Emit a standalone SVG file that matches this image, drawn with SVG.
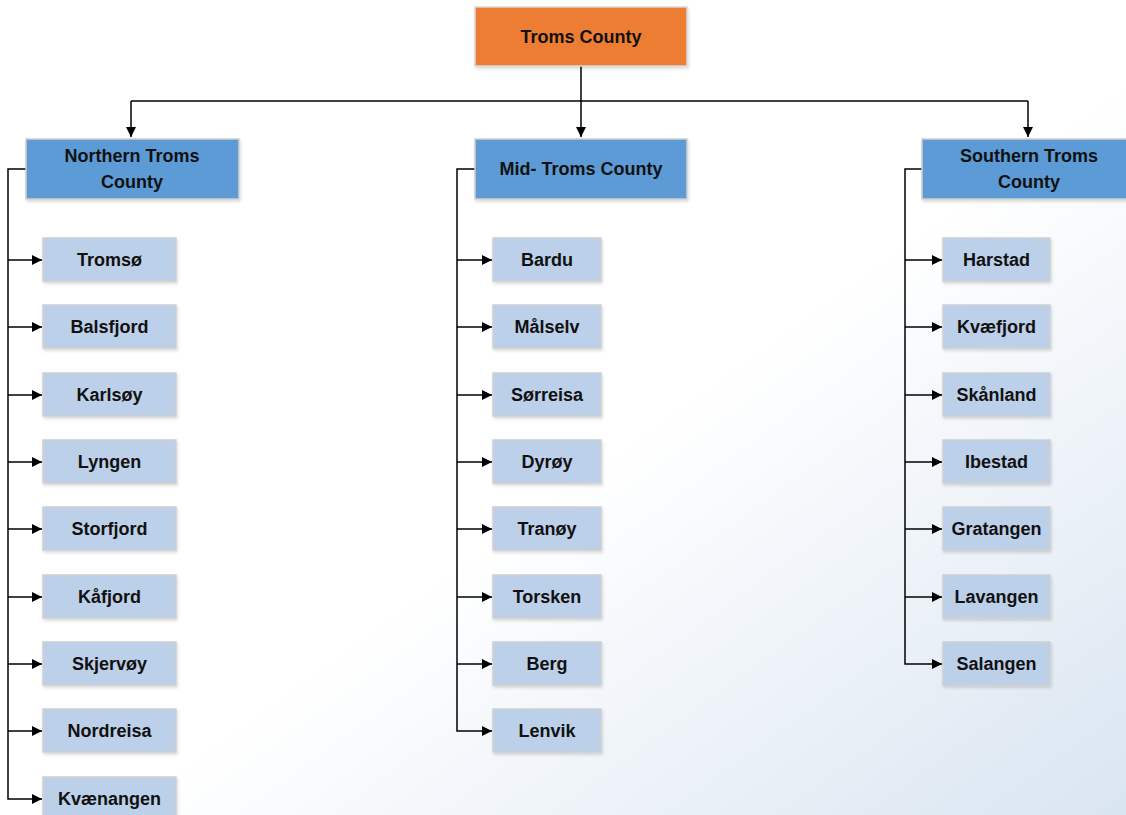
<svg xmlns="http://www.w3.org/2000/svg" width="1126" height="815" viewBox="0 0 1126 815">
<defs>
<linearGradient id="bg" x1="0" y1="0" x2="1" y2="1">
<stop offset="0" stop-color="#ffffff"/>
<stop offset="0.55" stop-color="#ffffff"/>
<stop offset="1" stop-color="#d9e5f1"/>
</linearGradient>
<marker id="arr" viewBox="0 0 10 10" refX="10" refY="5" markerWidth="10" markerHeight="10" markerUnits="userSpaceOnUse" orient="auto">
<path d="M0,0 L10,5 L0,10 Z" fill="#000"/>
</marker>
<filter id="sh" x="-10%" y="-10%" width="130%" height="140%">
<feDropShadow dx="1" dy="2" stdDeviation="1.5" flood-color="#000" flood-opacity="0.15"/>
</filter>
</defs>
<style>
.t{font-family:"Liberation Sans",Arial,sans-serif;font-weight:bold;font-size:18px;fill:#111;text-anchor:middle;dominant-baseline:central}
.top{fill:#ED7D31;stroke:#d9d9d9;stroke-width:1.5}
.l2{fill:#5B9BD5;stroke:#cfcfcf;stroke-width:1.5}
.l3{fill:#BCD0EA;stroke:#cfcfcf;stroke-width:1.5}
.c{fill:none;stroke:#000;stroke-width:1.5}
</style>
<rect width="1126" height="815" fill="url(#bg)"/>
<g id="connectors">
<path class="c" d="M581,66 V137" marker-end="url(#arr)"/>
<path class="c" d="M131,101 H1028"/>
<path class="c" d="M131,101 V137" marker-end="url(#arr)"/>
<path class="c" d="M1028,101 V137" marker-end="url(#arr)"/>
<path class="c" d="M26,169 H8 V799 H42" marker-end="url(#arr)"/>
<path class="c" d="M8,260 H42" marker-end="url(#arr)"/>
<path class="c" d="M8,327 H42" marker-end="url(#arr)"/>
<path class="c" d="M8,395 H42" marker-end="url(#arr)"/>
<path class="c" d="M8,462 H42" marker-end="url(#arr)"/>
<path class="c" d="M8,529 H42" marker-end="url(#arr)"/>
<path class="c" d="M8,597 H42" marker-end="url(#arr)"/>
<path class="c" d="M8,664 H42" marker-end="url(#arr)"/>
<path class="c" d="M8,731 H42" marker-end="url(#arr)"/>
<path class="c" d="M475,169 H457 V731 H492" marker-end="url(#arr)"/>
<path class="c" d="M457,260 H492" marker-end="url(#arr)"/>
<path class="c" d="M457,327 H492" marker-end="url(#arr)"/>
<path class="c" d="M457,395 H492" marker-end="url(#arr)"/>
<path class="c" d="M457,462 H492" marker-end="url(#arr)"/>
<path class="c" d="M457,529 H492" marker-end="url(#arr)"/>
<path class="c" d="M457,597 H492" marker-end="url(#arr)"/>
<path class="c" d="M457,664 H492" marker-end="url(#arr)"/>
<path class="c" d="M922,169 H905 V664 H942" marker-end="url(#arr)"/>
<path class="c" d="M905,260 H942" marker-end="url(#arr)"/>
<path class="c" d="M905,327 H942" marker-end="url(#arr)"/>
<path class="c" d="M905,395 H942" marker-end="url(#arr)"/>
<path class="c" d="M905,462 H942" marker-end="url(#arr)"/>
<path class="c" d="M905,529 H942" marker-end="url(#arr)"/>
<path class="c" d="M905,597 H942" marker-end="url(#arr)"/>
</g>
<g id="troms-county"><rect class="top" x="475" y="7" width="212" height="59" filter="url(#sh)"/><text class="t" x="581" y="37">Troms County</text></g>
<g id="northern"><rect class="l2" x="26" y="139" width="213" height="60" filter="url(#sh)"/><text class="t" x="132" y="156">Northern Troms</text><text class="t" x="132" y="182">County</text></g>
<g id="mid"><rect class="l2" x="475" y="139" width="212" height="60" filter="url(#sh)"/><text class="t" x="581" y="169">Mid- Troms County</text></g>
<g id="southern"><rect class="l2" x="922" y="139" width="213" height="60" filter="url(#sh)"/><text class="t" x="1029" y="156">Southern Troms</text><text class="t" x="1029" y="182">County</text></g>
<g id="n1"><rect class="l3" x="43" y="238" width="133" height="43" filter="url(#sh)"/><text class="t" x="109.5" y="260">Tromsø</text></g>
<g id="n2"><rect class="l3" x="43" y="305" width="133" height="43" filter="url(#sh)"/><text class="t" x="109.5" y="327">Balsfjord</text></g>
<g id="n3"><rect class="l3" x="43" y="373" width="133" height="43" filter="url(#sh)"/><text class="t" x="109.5" y="395">Karlsøy</text></g>
<g id="n4"><rect class="l3" x="43" y="440" width="133" height="43" filter="url(#sh)"/><text class="t" x="109.5" y="462">Lyngen</text></g>
<g id="n5"><rect class="l3" x="43" y="507" width="133" height="43" filter="url(#sh)"/><text class="t" x="109.5" y="529">Storfjord</text></g>
<g id="n6"><rect class="l3" x="43" y="575" width="133" height="43" filter="url(#sh)"/><text class="t" x="109.5" y="597">Kåfjord</text></g>
<g id="n7"><rect class="l3" x="43" y="642" width="133" height="43" filter="url(#sh)"/><text class="t" x="109.5" y="664">Skjervøy</text></g>
<g id="n8"><rect class="l3" x="43" y="709" width="133" height="43" filter="url(#sh)"/><text class="t" x="109.5" y="731">Nordreisa</text></g>
<g id="n9"><rect class="l3" x="43" y="777" width="133" height="43" filter="url(#sh)"/><text class="t" x="109.5" y="799">Kvænangen</text></g>
<g id="m1"><rect class="l3" x="493" y="238" width="108" height="43" filter="url(#sh)"/><text class="t" x="547" y="260">Bardu</text></g>
<g id="m2"><rect class="l3" x="493" y="305" width="108" height="43" filter="url(#sh)"/><text class="t" x="547" y="327">Målselv</text></g>
<g id="m3"><rect class="l3" x="493" y="373" width="108" height="43" filter="url(#sh)"/><text class="t" x="547" y="395">Sørreisa</text></g>
<g id="m4"><rect class="l3" x="493" y="440" width="108" height="43" filter="url(#sh)"/><text class="t" x="547" y="462">Dyrøy</text></g>
<g id="m5"><rect class="l3" x="493" y="507" width="108" height="43" filter="url(#sh)"/><text class="t" x="547" y="529">Tranøy</text></g>
<g id="m6"><rect class="l3" x="493" y="575" width="108" height="43" filter="url(#sh)"/><text class="t" x="547" y="597">Torsken</text></g>
<g id="m7"><rect class="l3" x="493" y="642" width="108" height="43" filter="url(#sh)"/><text class="t" x="547" y="664">Berg</text></g>
<g id="m8"><rect class="l3" x="493" y="709" width="108" height="43" filter="url(#sh)"/><text class="t" x="547" y="731">Lenvik</text></g>
<g id="s1"><rect class="l3" x="943" y="238" width="107" height="43" filter="url(#sh)"/><text class="t" x="996.5" y="260">Harstad</text></g>
<g id="s2"><rect class="l3" x="943" y="305" width="107" height="43" filter="url(#sh)"/><text class="t" x="996.5" y="327">Kvæfjord</text></g>
<g id="s3"><rect class="l3" x="943" y="373" width="107" height="43" filter="url(#sh)"/><text class="t" x="996.5" y="395">Skånland</text></g>
<g id="s4"><rect class="l3" x="943" y="440" width="107" height="43" filter="url(#sh)"/><text class="t" x="996.5" y="462">Ibestad</text></g>
<g id="s5"><rect class="l3" x="943" y="507" width="107" height="43" filter="url(#sh)"/><text class="t" x="996.5" y="529">Gratangen</text></g>
<g id="s6"><rect class="l3" x="943" y="575" width="107" height="43" filter="url(#sh)"/><text class="t" x="996.5" y="597">Lavangen</text></g>
<g id="s7"><rect class="l3" x="943" y="642" width="107" height="43" filter="url(#sh)"/><text class="t" x="996.5" y="664">Salangen</text></g>
</svg>
